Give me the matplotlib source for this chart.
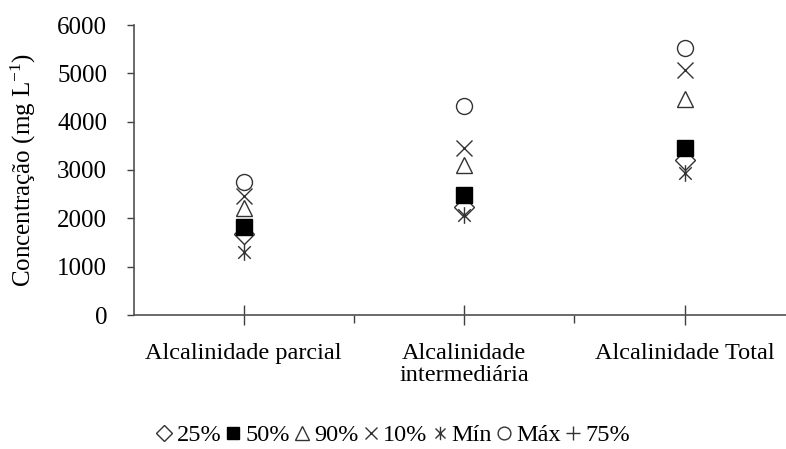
import matplotlib
matplotlib.use("Agg")
import matplotlib.pyplot as plt
from matplotlib.path import Path
from matplotlib.lines import Line2D
import numpy as np

plt.rcParams['font.family'] = ['Liberation Serif', 'DejaVu Serif']
plt.rcParams['mathtext.fontset'] = 'custom'
plt.rcParams['mathtext.rm'] = 'Liberation Serif'
plt.rcParams['mathtext.it'] = 'Liberation Serif:italic'

categories = ["Alcalinidade parcial", "Alcalinidade\nintermediária", "Alcalinidade Total"]
p25 = [1680, 2240, 3200]
p50 = [1830, 2480, 3460]
p90 = [2210, 3100, 4460]
p10 = [2470, 3450, 5070]
vmin = [1300, 2070, 2940]
vmax = [2750, 4320, 5520]
p75 = [np.nan, np.nan, np.nan]
yticks = [0, 1000, 2000, 3000, 4000, 5000, 6000]

star = Path([(0, -1), (0, 1), (-0.75, -0.75), (0.75, 0.75), (-0.75, 0.75), (0.75, -0.75)],
            [Path.MOVETO, Path.LINETO, Path.MOVETO, Path.LINETO, Path.MOVETO, Path.LINETO])

fig = plt.figure(figsize=(7.86, 4.49), dpi=100)
ax = fig.add_axes([133.5/786, 1-315/449, 1-133.5/786, (315-25)/449])

x = np.arange(1, len(categories)+1)
ec = '#333333'
series = [
    (p25, dict(marker='D', ms=10, mfc='white', mec=ec, mew=1.0), '25%'),
    (p50, dict(marker='s', ms=11.5, mfc='black', mec='black', mew=1.0), '50%'),
    (p90, dict(marker='^', ms=12, mfc='white', mec=ec, mew=1.0), '90%'),
    (p10, dict(marker='x', ms=11, mec=ec, mew=1.0), '10%'),
    (vmin, dict(marker=star, ms=12, mec=ec, mew=1.0), 'Mín'),
    (vmax, dict(marker='o', ms=11.5, mfc='white', mec=ec, mew=1.0), 'Máx'),
    (p75, dict(marker='+', ms=12, mec=ec, mew=1.0), '75%'),
]
handles = []
for vals, st, lab in series:
    ax.plot(x, vals, linestyle='none', **st)
    hst = dict(st)
    hst['ms'] = st['ms'] * 0.8
    handles.append(Line2D([], [], linestyle='none', **hst))

ax.set_xlim(0.5, 3.46)
ax.set_ylim(0, 6000)
ax.set_yticks(yticks)
ax.set_yticklabels([str(t) for t in yticks], fontsize=18)
ax.set_xticks(x)
ax.set_xticklabels(categories, fontsize=17.5, linespacing=1.05)
ax.set_xticks([1.5, 2.5], minor=True)
ax.tick_params(axis='x', which='major', direction='inout', length=14, width=1, color='#404040', pad=13)
ax.tick_params(axis='x', which='minor', direction='out', length=6, width=1, color='#404040')
ax.tick_params(axis='y', direction='out', length=5, width=1, color='#404040', pad=14)
for s in ['top', 'right']:
    ax.spines[s].set_visible(False)
for s in ['left', 'bottom']:
    ax.spines[s].set_color('#505050')
    ax.spines[s].set_linewidth(1.2)
ax.set_ylabel('Concentração (mg L$^{\\mathregular{-1}}$)', fontsize=18, labelpad=14)

fig.legend(handles, [s[2] for s in series], loc='center', bbox_to_anchor=(393/786, 1-435/449),
           ncol=7, frameon=False, fontsize=17.5, handlelength=0.7, handletextpad=0.15,
           columnspacing=0.15, borderpad=0)

fig.savefig('out.png', dpi=100)
